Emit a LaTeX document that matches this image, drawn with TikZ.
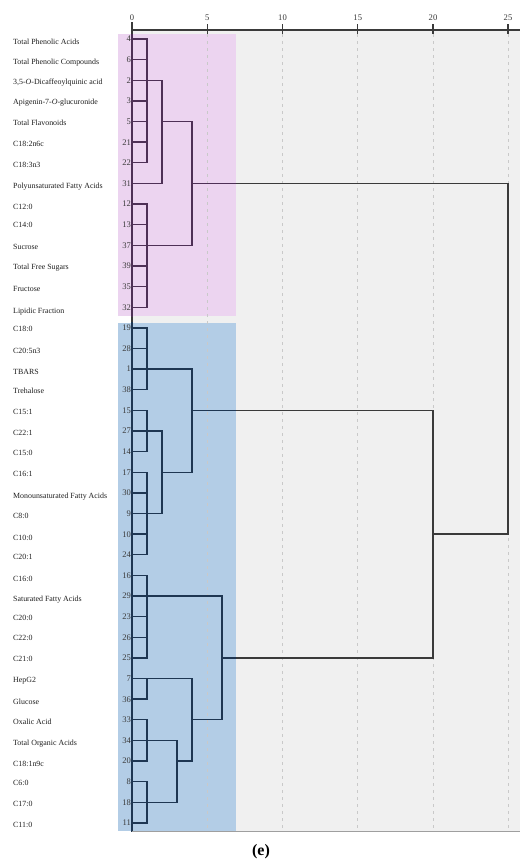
\documentclass[tikz,border=0pt]{standalone}
\usepackage{fontspec}
\setmainfont{Liberation Serif}
\usetikzlibrary{calc}
\definecolor{plotgray}{HTML}{F0F0F0}
\definecolor{bandpink}{HTML}{ECD4F0}
\definecolor{bandblue}{HTML}{B3CDE6}
\definecolor{linegray}{HTML}{3A3A3A}
\definecolor{linepink}{HTML}{4E3056}
\definecolor{lineblue}{HTML}{1E3652}
\definecolor{gridcol}{HTML}{C9C9C9}
\newcommand\drawdendro[1]{%
  \draw[dline,#1] (132,23) -- (132,831);
  \foreach \i in {0,...,6,8,9,...,38}{\draw[dline,#1] (r\i) -- (r\i-|d1);}
  \draw[dline,#1] (r7) -- (r7-|d2);
  % pink cluster
  \draw[dline,#1] (r0-|d1) -- (r6-|d1);
  \draw[dline,#1] (r2-|d1) -- (r2-|d2) -- (r7-|d2);
  \draw[dline,#1] (r4-|d2) -- (r4-|d4) -- (r10-|d4);
  \draw[dline,#1] (r8-|d1) -- (r13-|d1);
  \draw[dline,#1] (r10-|d1) -- (r10-|d4);
  \draw[dline,#1] (r7-|d4) -- (r7-|d25) -- (r24-|d25) -- (r24-|d20);
  % blue cluster
  \draw[dline,#1] (r14-|d1) -- (r17-|d1);
  \draw[dline,#1] (r16-|d1) -- (r16-|d4) -- (r21-|d4);
  \draw[dline,#1] (r18-|d1) -- (r20-|d1);
  \draw[dline,#1] (r19-|d1) -- (r19-|d2) -- (r23-|d2);
  \draw[dline,#1] (r21-|d1) -- (r25-|d1);
  \draw[dline,#1] (r23-|d1) -- (r23-|d2);
  \draw[dline,#1] (r21-|d2) -- (r21-|d4);
  \draw[dline,#1] (r18-|d4) -- (r18-|d20) -- (r30-|d20) -- (r30-|d6);
  \draw[dline,#1] (r26-|d1) -- (r30-|d1);
  \draw[dline,#1] (r27-|d1) -- (r27-|d6) -- (r33-|d6);
  \draw[dline,#1] (r31-|d1) -- (r32-|d1);
  \draw[dline,#1] (r31-|d1) -- (r31-|d4) -- (r35-|d4);
  \draw[dline,#1] (r33-|d1) -- (r35-|d1);
  \draw[dline,#1] (r34-|d1) -- (r34-|d3) -- (r37-|d3);
  \draw[dline,#1] (r36-|d1) -- (r38-|d1);
  \draw[dline,#1] (r37-|d1) -- (r37-|d3);
  \draw[dline,#1] (r35-|d3) -- (r35-|d4);
  \draw[dline,#1] (r33-|d4) -- (r33-|d6);
}
\begin{document}
\begin{tikzpicture}[x=1pt,y=-1pt,
  dline/.style={line width=1.35pt, line cap=rect},
  gridline/.style={gridcol, line width=0.9pt, dash pattern=on 3pt off 4pt},
  axisline/.style={linegray, line width=1.3pt},
  lab/.style={font=\fontsize{7.9}{9}\selectfont, text=black!88, inner sep=0pt, anchor=base west},
  numlab/.style={font=\fontsize{8.6}{9}\selectfont, text=linegray, inner sep=0pt, anchor=base east},
  ticklab/.style={font=\fontsize{8.6}{9}\selectfont, text=linegray, inner sep=0pt, anchor=base}]
\useasboundingbox (0,0) rectangle (520,865);
\fill[white] (0,0) rectangle (520,865);
\fill[plotgray] (132,30) rectangle (520,831);
\fill[bandpink] (118,34) rectangle (236,316);
\fill[bandblue] (118,323) rectangle (236,831);
% distance coordinates
\coordinate (d0) at (132,30);
\coordinate (d1) at (147,30);
\coordinate (d2) at (162,30);
\coordinate (d3) at (177,30);
\coordinate (d4) at (192,30);
\coordinate (d5) at (207.25,30);
\coordinate (d6) at (222,30);
\coordinate (d10) at (282.5,30);
\coordinate (d15) at (357.75,30);
\coordinate (d20) at (433,30);
\coordinate (d25) at (508,30);
% grid
\foreach \d in {d5,d10,d15,d20,d25}{\draw[gridline] (\d) ++(0,4) -- (\d |- 0,831);}
% rows
\foreach \i in {0,...,38}{\coordinate (r\i) at (132,{39+20.63*\i});}
% dendrogram
\drawdendro{linegray}
\begin{scope}
  \clip (118,34) rectangle (236,316);
  \drawdendro{linepink}
\end{scope}
\begin{scope}
  \clip (118,322) rectangle (236,831);
  \drawdendro{lineblue}
\end{scope}
% axis
\draw[axisline] (132,30) -- (520,30);
\foreach \d/\t in {d0/0,d5/5,d10/10,d15/15,d20/20,d25/25}{
  \draw[axisline] (\d) ++(0,-6) -- ++(0,10);
  \node[ticklab] (t\t) at ($(\d)+(0,-10)$) {\t};
}
\draw[gray!75, line width=1pt] (132,831) -- (520,831);
% leaf numbers
\foreach \i/\n in {0/4,1/6,2/2,3/3,4/5,5/21,6/22,7/31,8/12,9/13,10/37,11/39,12/35,13/32,
  14/19,15/28,16/1,17/38,18/15,19/27,20/14,21/17,22/30,23/9,24/10,25/24,26/16,27/29,28/23,
  29/26,30/25,31/7,32/36,33/33,34/34,35/20,36/8,37/18,38/11}{
  \node[numlab] (n\n) at ($(r\i)+(-0.8,2.9)$) {\n};
}
% labels
\foreach \y/\t [count=\k] in {41.7/Total Phenolic Acids,62/Total Phenolic Compounds,
  82/{3,5-\textit{O}-Dicaffeoylquinic acid},102/Apigenin-7-\textit{O}-glucuronide,
  123/Total Flavonoids,144/C18:2n6c,165/C18:3n3,186/Polyunsaturated Fatty Acids,
  207/C12:0,225/C14:0,247/Sucrose,267/Total Free Sugars,289/Fructose,311/Lipidic Fraction,
  329/C18:0,350.5/C20:5n3,371.5/TBARS,391/Trehalose,411.5/C15:1,432.5/C22:1,453/C15:0,
  474/C16:1,496/Monounsaturated Fatty Acids,516/C8:0,538/C10:0,557/C20:1,579/C16:0,
  599/Saturated Fatty Acids,618/C20:0,638/C22:0,659/C21:0,680/HepG2,702/Glucose,
  722/Oxalic Acid,743/Total Organic Acids,764/C18:1n9c,783/C6:0,804/C17:0,825/C11:0}{
  \node[lab] (lab\k) at (13,\y+2.7) {\t};
}
\node[font=\fontsize{16}{19}\selectfont\bfseries, inner sep=0pt] (cap) at (261,852) {(e)};
\end{tikzpicture}
\end{document}
